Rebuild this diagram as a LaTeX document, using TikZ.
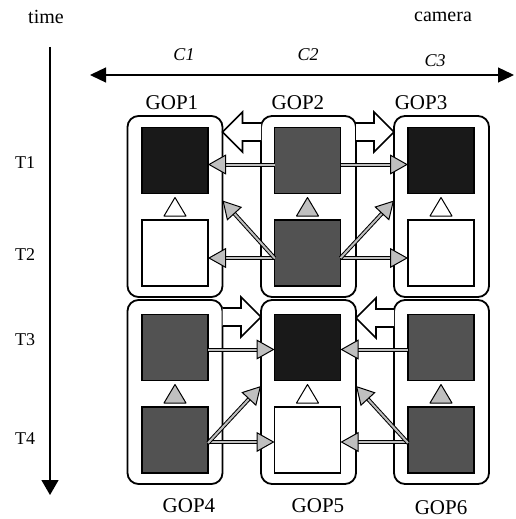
\documentclass[tikz,border=0pt]{standalone}
\usepackage{fontspec}
\setmainfont{Liberation Serif}
\usetikzlibrary{arrows.meta,calc}
\newcommand\blockarr[2]{\draw[barr] ($(#1)+(0,9)$) -- ($(#2)!20pt!(#1)+(0,9)$) -- ($(#2)!20pt!(#1)+(0,20)$) -- (#2) -- ($(#2)!20pt!(#1)+(0,-20)$) -- ($(#2)!20pt!(#1)+(0,-9)$) -- ($(#1)+(0,-9)$);}
\newcommand\uptri[3]{\draw[tri, fill=#3] ($(#1.north)+(-11,-4)$) -- ($(#2.south)+(0,4)$) -- ($(#1.north)+(11,-4)$) -- cycle;}
\begin{document}
\begin{tikzpicture}[x=1pt,y=-1pt,
 gop/.style={draw=black, line width=1.8pt, rounded corners=11pt, minimum width=95pt, inner sep=0pt, outer sep=0pt},
 sq/.style={draw=black, line width=1.4pt, minimum width=66pt, minimum height=66pt, inner sep=0pt, outer sep=0pt},
 blk/.style={sq, fill=black!90},
 dgr/.style={sq, fill=black!68},
 wht/.style={sq, fill=white},
 tri/.style={draw=black, line width=1pt, line join=round},
 garr/.style={draw=black!25, line width=2pt, preaction={draw=black, line width=4pt, shorten >=10pt, arrows=-}, -{Triangle[length=18pt,width=20pt,fill=black!25,color=black,line width=1pt]}},
 barr/.style={draw=black, line width=1.6pt, fill=white, line join=miter},
 axis/.style={draw=black, line width=1.3pt},
 lbl/.style={font=\fontsize{21}{21}\selectfont, inner sep=0pt},
 tl/.style={font=\fontsize{18}{18}\selectfont, inner sep=0pt},
 cl/.style={font=\fontsize{18}{18}\selectfont\itshape, inner sep=0pt},
 hl/.style={font=\fontsize{20}{20}\selectfont, inner sep=0pt}]
\useasboundingbox (0,0) rectangle (516,519);
% axes
\coordinate (hl0) at (90,75); \coordinate (hr0) at (514,75);
\draw[axis, {Triangle[length=16pt,width=15pt]}-{Triangle[length=16pt,width=15pt]}] (hl0) -- (hr0);
\coordinate (vt) at (50,47); \coordinate (vb) at (50,495);
\draw[axis, -{Triangle[length=15pt,width=17pt]}] (vt) -- (vb);
% labels
\node[hl] (time) at (46,17) {time};
\node[hl] (camera) at (443,17) {camera};
\node[cl] (c1) at (184,55) {C1};
\node[cl] (c2) at (308,55) {C2};
\node[cl] (c3) at (435,61) {C3};
\node[tl] (t1) at (25,163) {T1};
\node[tl] (t2) at (25,255) {T2};
\node[tl] (t3) at (25,340) {T3};
\node[tl] (t4) at (25,439) {T4};
% GOP boxes
\node[gop, minimum height=181pt] (G1) at (175,206.5) {};
\node[gop, minimum height=181pt] (G2) at (308.5,206.5) {};
\node[gop, minimum height=181pt] (G3) at (441.5,206.5) {};
\node[gop, minimum height=184pt] (G4) at (175,392) {};
\node[gop, minimum height=184pt] (G5) at (308.5,392) {};
\node[gop, minimum height=184pt] (G6) at (441.5,392) {};
\node[lbl] (l1) at (172,103) {GOP1};
\node[lbl] (l2) at (298,103) {GOP2};
\node[lbl] (l3) at (421,103) {GOP3};
\node[lbl] (l4) at (189,506) {GOP4};
\node[lbl] (l5) at (318,506) {GOP5};
\node[lbl] (l6) at (441,508) {GOP6};
% frames
\node[blk] (s11) at (175,160.5) {};
\node[wht] (s12) at (175,253) {};
\node[dgr] (s21) at (307.5,160.5) {};
\node[dgr] (s22) at (307.5,253) {};
\node[blk] (s31) at (441,160.5) {};
\node[wht] (s32) at (441,253) {};
\node[dgr] (s41) at (175,347.5) {};
\node[dgr] (s42) at (175,440) {};
\node[blk] (s51) at (307.5,347.5) {};
\node[wht] (s52) at (307.5,440) {};
\node[dgr] (s61) at (441,347.5) {};
\node[dgr] (s62) at (441,440) {};
% small triangles
\uptri{s12}{s11}{white}
\uptri{s22}{s21}{black!25}
\uptri{s32}{s31}{white}
\uptri{s42}{s41}{black!25}
\uptri{s52}{s51}{white}
\uptri{s62}{s61}{black!25}
% block arrows
\coordinate (a1t) at ([yshift=74.5pt]G2.west); \coordinate (a1h) at ([yshift=74.5pt]G1.east);
\coordinate (a2t) at ([yshift=74.5pt]G2.east); \coordinate (a2h) at ([yshift=74.5pt]G3.west);
\coordinate (a3t) at ([yshift=75pt]G4.east); \coordinate (a3h) at ([yshift=75pt]G5.west);
\coordinate (a4t) at ([yshift=74pt]G6.west); \coordinate (a4h) at ([yshift=74pt]G5.east);
\blockarr{a1t}{a1h}
\blockarr{a2t}{a2h}
\blockarr{a3t}{a3h}
\blockarr{a4t}{a4h}
% gray arrows
\draw[garr] ([yshift=-4pt]s21.west) -- ([yshift=-4pt]s11.east);
\draw[garr] ([yshift=-4pt]s21.east) -- ([yshift=-4pt]s31.west);
\draw[garr] ([yshift=-5pt]s22.west) -- ([yshift=-5pt]s12.east);
\draw[garr] ([yshift=-5pt]s22.east) -- ([yshift=-5pt]s32.west);
\draw[garr] ([yshift=-5pt]s22.west) -- ([yshift=6pt]G1.east);
\draw[garr] ([yshift=-5pt]s22.east) -- ([yshift=6pt]G3.west);
\draw[garr] ([yshift=-2pt]s41.east) -- ([yshift=-2pt]s51.west);
\draw[garr] ([yshift=-2pt]s61.west) -- ([yshift=-2pt]s51.east);
\draw[garr] ([yshift=-2pt]s42.east) -- ([yshift=-2pt]s52.west);
\draw[garr] ([yshift=-2pt]s62.west) -- ([yshift=-2pt]s52.east);
\draw[garr] ([yshift=-3pt]s42.east) -- ([yshift=6pt]G5.west);
\draw[garr] ([yshift=-3pt]s62.west) -- ([yshift=6pt]G5.east);
\end{tikzpicture}
\end{document}
